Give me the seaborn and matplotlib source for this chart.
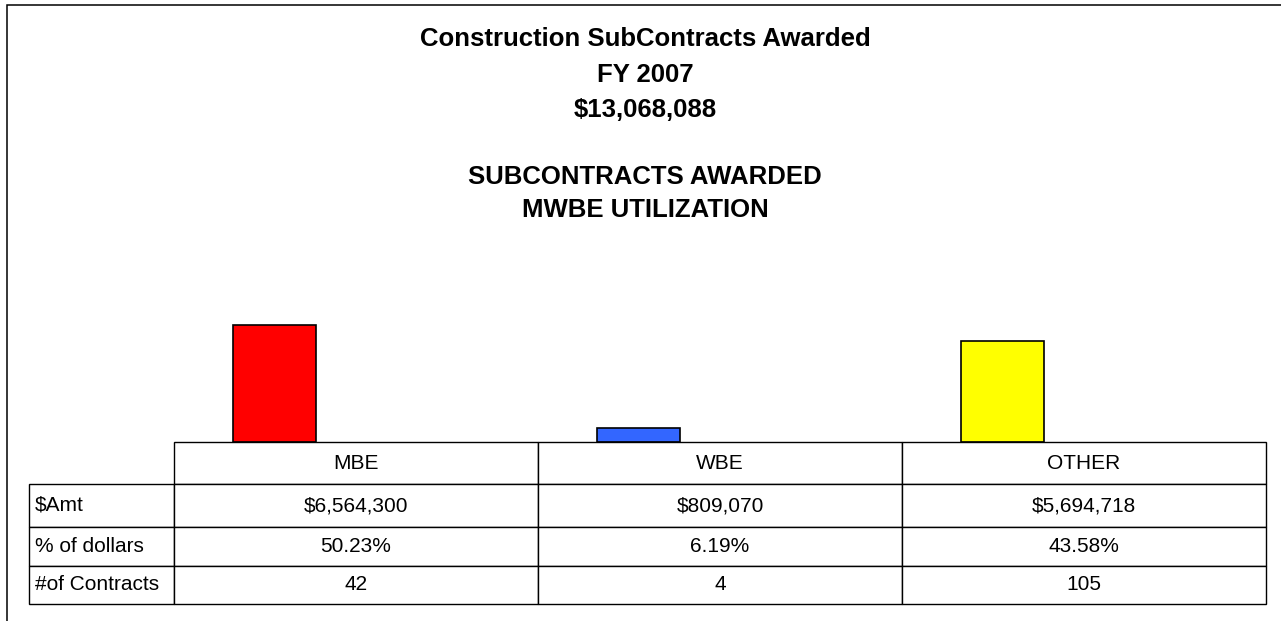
import matplotlib
matplotlib.use("Agg")
import matplotlib.pyplot as plt
import seaborn as sns
from matplotlib.patches import Rectangle
from matplotlib.table import Table

categories = ["MBE", "WBE", "OTHER"]
amounts = [6564300, 809070, 5694718]
pct_dollars = [50.23, 6.19, 43.58]
num_contracts = [42, 4, 105]
row_labels = ["$Amt", "% of dollars", "#of Contracts"]
bar_colors = ["#FF0000", "#3366FF", "#FFFF00"]

title_lines = ["Construction SubContracts Awarded", "FY 2007", "${:,}".format(sum(amounts)),
               "SUBCONTRACTS AWARDED", "MWBE UTILIZATION"]

sns.set_theme(style="white")
plt.rcParams["font.family"] = ["Liberation Sans", "DejaVu Sans"]
plt.rcParams["text.parse_math"] = False

W, H = 1281, 621
fig = plt.figure(figsize=(W / 100, H / 100), dpi=100)
fig.patch.set_facecolor("white")


def fx(px):
    return px / W


def fy(px):
    return 1 - px / H


# outer frame (only left and top visible)
fig.patches.append(Rectangle((fx(7), -0.2), 1.5, fy(5) + 0.2, transform=fig.transFigure,
                             fill=False, edgecolor="black", linewidth=1.1))

# titles
baselines = [46, 82, 117, 184, 217]
for line, yb in zip(title_lines, baselines):
    fig.text(fx(645), fy(yb), line, ha="center", va="baseline",
             fontsize=18.5, fontweight="bold", color="black")

# bars
ax = fig.add_axes([fx(174), fy(442), fx(1266) - fx(174), fy(300) - fy(442)])
sns.barplot(x=categories, y=amounts, hue=categories, palette=bar_colors, width=0.23,
            saturation=1, edgecolor="black", linewidth=1.2, legend=False, ax=ax)
ax.set_xlim(-0.276, 2.724)
ax.set_ylim(0, 8000000)
ax.axis("off")

# data table
tax = fig.add_axes([fx(29), fy(604), fx(1266) - fx(29), fy(442) - fy(604)])
tax.axis("off")
rows = [[""] + categories,
        [row_labels[0]] + ["${:,}".format(a) for a in amounts],
        [row_labels[1]] + ["{:.2f}%".format(p) for p in pct_dollars],
        [row_labels[2]] + [str(n) for n in num_contracts]]
col_w = [145, 364, 364, 364]
row_h = [42, 43, 39, 38]
tbl = Table(tax, bbox=[0, 0, 1, 1])
tbl.auto_set_font_size(False)
for r, row in enumerate(rows):
    for c, txt in enumerate(row):
        cell = tbl.add_cell(r, c, width=col_w[c], height=row_h[r], text=txt,
                            loc="left" if c == 0 else "center",
                            edgecolor="black", facecolor="white")
        cell.set_linewidth(1.0)
        cell.get_text().set_fontsize(15)
        cell.get_text().set_color("black")
        if c == 0:
            cell.PAD = 0.04
        if r == 0 and c == 0:
            cell.visible_edges = ""
tbl.set_fontsize(15)
tax.add_table(tbl)

fig.savefig("out.png", dpi=100, facecolor="white")
